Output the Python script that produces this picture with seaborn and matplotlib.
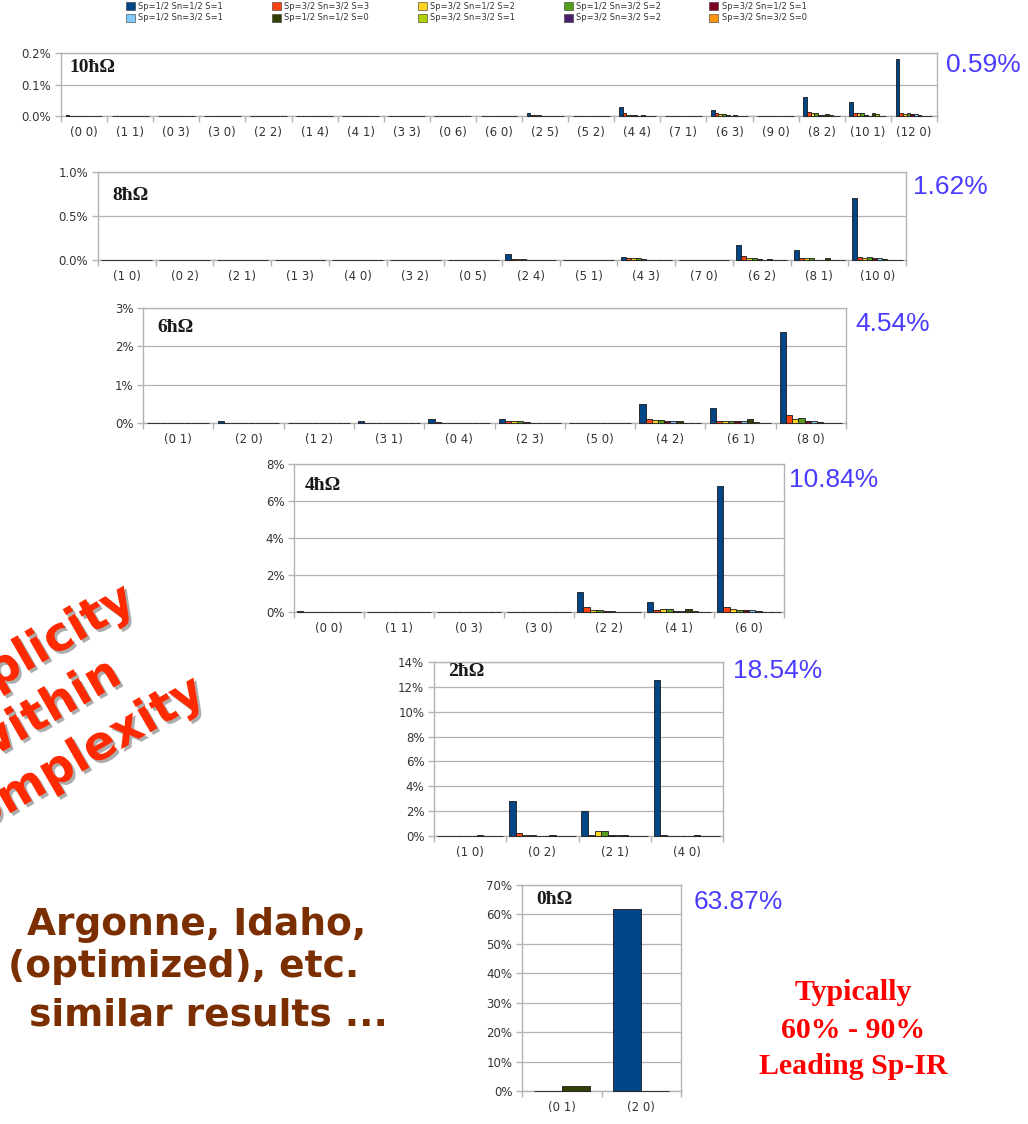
import numpy as np
import pandas as pd
import matplotlib
matplotlib.use("Agg")
import matplotlib.pyplot as plt
import matplotlib.patheffects as pe
from matplotlib.patches import Patch
from matplotlib.ticker import PercentFormatter, FixedLocator
import seaborn as sns

# ---- data (percent of the wave function) ----
series = ["Sp=1/2 Sn=1/2 S=1", "Sp=3/2 Sn=3/2 S=3", "Sp=3/2 Sn=1/2 S=2", "Sp=1/2 Sn=3/2 S=2",
          "Sp=3/2 Sn=1/2 S=1", "Sp=1/2 Sn=3/2 S=1", "Sp=1/2 Sn=1/2 S=0", "Sp=3/2 Sn=3/2 S=1",
          "Sp=3/2 Sn=3/2 S=2", "Sp=3/2 Sn=3/2 S=0"]
colors = ["#004586", "#ff420e", "#ffd320", "#579d1c", "#7e0021",
          "#83caff", "#314004", "#aecf00", "#4b1f6f", "#ff950e"]

cats_10 = ["(0 0)", "(1 1)", "(0 3)", "(3 0)", "(2 2)", "(1 4)", "(4 1)", "(3 3)", "(0 6)", "(6 0)",
           "(2 5)", "(5 2)", "(4 4)", "(7 1)", "(6 3)", "(9 0)", "(8 2)", "(10 1)", "(12 0)"]
vals_10 = [
    [0.002, 0, 0, 0, 0, 0, 0.001, 0, 0, 0],
    [0.001, 0, 0, 0, 0, 0, 0, 0, 0, 0],
    [0.001, 0, 0, 0, 0, 0, 0, 0, 0, 0],
    [0.001, 0, 0, 0, 0, 0, 0, 0, 0, 0],
    [0.001, 0, 0, 0, 0, 0, 0, 0, 0, 0],
    [0, 0, 0, 0, 0, 0, 0, 0, 0, 0],
    [0, 0, 0, 0, 0, 0, 0, 0, 0, 0],
    [0, 0, 0, 0, 0, 0, 0, 0, 0, 0],
    [0, 0, 0, 0, 0, 0, 0, 0, 0, 0],
    [0, 0, 0, 0, 0, 0, 0, 0, 0, 0],
    [0.008, 0.003, 0.002, 0.002, 0, 0, 0.001, 0, 0, 0],
    [0, 0, 0, 0, 0, 0, 0, 0, 0, 0],
    [0.028, 0.010, 0.004, 0.004, 0.002, 0, 0.003, 0, 0, 0],
    [0, 0, 0, 0, 0, 0, 0, 0, 0, 0],
    [0.018, 0.008, 0.006, 0.006, 0.003, 0, 0.004, 0, 0, 0],
    [0, 0, 0, 0, 0, 0, 0, 0, 0, 0],
    [0.060, 0.012, 0.010, 0.010, 0.004, 0.004, 0.006, 0.004, 0, 0],
    [0.045, 0.010, 0.008, 0.008, 0.004, 0, 0.008, 0.006, 0, 0],
    [0.182, 0.010, 0.006, 0.008, 0.006, 0.006, 0.004, 0, 0, 0],
]

cats_8 = ["(1 0)", "(0 2)", "(2 1)", "(1 3)", "(4 0)", "(3 2)", "(0 5)",
          "(2 4)", "(5 1)", "(4 3)", "(7 0)", "(6 2)", "(8 1)", "(10 0)"]
vals_8 = [
    [0.002, 0, 0, 0, 0, 0, 0, 0, 0, 0],
    [0.002, 0, 0, 0, 0, 0, 0, 0, 0, 0],
    [0.001, 0, 0, 0, 0, 0, 0, 0, 0, 0],
    [0.001, 0, 0, 0, 0, 0, 0, 0, 0, 0],
    [0.001, 0, 0, 0, 0, 0, 0, 0, 0, 0],
    [0.001, 0, 0, 0, 0, 0, 0, 0, 0, 0],
    [0, 0, 0, 0, 0, 0, 0, 0, 0, 0],
    [0.065, 0.012, 0.006, 0.006, 0, 0, 0.002, 0, 0, 0],
    [0.004, 0, 0, 0, 0, 0, 0, 0, 0, 0],
    [0.035, 0.020, 0.020, 0.020, 0.010, 0, 0.005, 0, 0, 0],
    [0.002, 0, 0, 0, 0, 0, 0, 0, 0, 0],
    [0.170, 0.050, 0.020, 0.020, 0.010, 0.005, 0.010, 0, 0, 0],
    [0.115, 0.020, 0.020, 0.020, 0.005, 0, 0.025, 0.005, 0, 0],
    [0.710, 0.030, 0.020, 0.030, 0.020, 0.020, 0.010, 0, 0, 0],
]

cats_6 = ["(0 1)", "(2 0)", "(1 2)", "(3 1)", "(0 4)", "(2 3)", "(5 0)", "(4 2)", "(6 1)", "(8 0)"]
vals_6 = [
    [0.01, 0, 0, 0, 0, 0, 0.01, 0, 0, 0],
    [0.06, 0.01, 0, 0, 0, 0, 0.01, 0, 0, 0],
    [0.01, 0, 0.01, 0, 0, 0, 0, 0, 0, 0],
    [0.05, 0.01, 0.01, 0.01, 0, 0, 0.01, 0, 0, 0],
    [0.10, 0.03, 0.01, 0.01, 0, 0, 0.01, 0, 0, 0],
    [0.10, 0.05, 0.05, 0.05, 0.02, 0, 0.01, 0, 0, 0],
    [0.01, 0.01, 0.01, 0.01, 0, 0, 0, 0, 0, 0],
    [0.50, 0.10, 0.08, 0.08, 0.06, 0.06, 0.04, 0, 0, 0],
    [0.40, 0.06, 0.06, 0.06, 0.04, 0.04, 0.10, 0.02, 0, 0],
    [2.38, 0.21, 0.10, 0.12, 0.06, 0.05, 0.03, 0.01, 0, 0],
]

cats_4 = ["(0 0)", "(1 1)", "(0 3)", "(3 0)", "(2 2)", "(4 1)", "(6 0)"]
vals_4 = [
    [0.04, 0, 0, 0, 0, 0, 0.01, 0, 0, 0],
    [0.02, 0.01, 0.01, 0.01, 0, 0, 0.01, 0, 0, 0],
    [0.01, 0.01, 0.01, 0.01, 0, 0, 0, 0, 0, 0],
    [0.01, 0.01, 0.01, 0.01, 0, 0, 0, 0, 0, 0],
    [1.10, 0.25, 0.12, 0.12, 0.05, 0.05, 0.02, 0, 0, 0],
    [0.54, 0.12, 0.15, 0.15, 0.06, 0.05, 0.17, 0.03, 0, 0],
    [6.80, 0.25, 0.15, 0.12, 0.10, 0.10, 0.03, 0.01, 0, 0],
]

cats_2 = ["(1 0)", "(0 2)", "(2 1)", "(4 0)"]
vals_2 = [
    [0.01, 0.01, 0.01, 0.01, 0, 0, 0.08, 0, 0, 0],
    [2.84, 0.22, 0.08, 0.08, 0.03, 0, 0.06, 0, 0, 0],
    [2.05, 0.05, 0.42, 0.42, 0.10, 0.10, 0.10, 0, 0, 0],
    [12.55, 0.05, 0.03, 0.03, 0, 0, 0.06, 0, 0, 0],
]

series_0 = ["Sp=1/2 Sn=1/2 S=1", "Sp=1/2 Sn=1/2 S=0"]
colors_0 = ["#004586", "#314004"]
cats_0 = ["(0 1)", "(2 0)"]
vals_0 = [
    [0.15, 1.7],
    [62.0, 0.0],
]

labels = ["10ħΩ", "8ħΩ", "6ħΩ", "4ħΩ", "2ħΩ", "0ħΩ"]
totals = ["0.59%", "1.62%", "4.54%", "10.84%", "18.54%", "63.87%"]
ymax = [0.2, 1.0, 3, 8, 14, 70]
ystep = [0.1, 0.5, 1, 2, 2, 10]
ydec = [1, 1, 0, 0, 0, 0]

# ---- layout (pixels of a 1028x1124 canvas) ----
W, H = 1028, 1124
boxes = [(61, 53, 937, 116), (98, 172, 906, 260), (143, 308, 846, 423),
         (294, 464, 784, 612), (434, 662, 723, 836), (522, 885, 681, 1091)]
title_off = [(8, 15), (14, 23), (14, 19), (11, 22), (14, 10), (14, 15)]
total_pos = [(946, 65), (913, 187), (855, 324), (789, 480), (733, 671), (694, 902)]
bar_width = [0.8, 0.88, 0.88, 0.92, 0.92, 0.7]

sns.set_style("white")
plt.rcParams["font.family"] = ["DejaVu Sans"]

fig = plt.figure(figsize=(W / 100, H / 100), dpi=100)

panel_data = [(cats_10, vals_10, series, colors), (cats_8, vals_8, series, colors),
              (cats_6, vals_6, series, colors), (cats_4, vals_4, series, colors),
              (cats_2, vals_2, series, colors), (cats_0, vals_0, series_0, colors_0)]

grey = "#b3b3b3"
for i, (cats, vals, hue_names, pal) in enumerate(panel_data):
    l, t, r, b = boxes[i]
    ax = fig.add_axes([l / W, 1 - b / H, (r - l) / W, (b - t) / H])
    df = pd.DataFrame(vals, index=cats, columns=hue_names)
    df = df.reset_index(names="config").melt(id_vars="config", var_name="series", value_name="pct")
    sns.barplot(data=df, x="config", y="pct", hue="series", order=cats, hue_order=hue_names,
                palette=pal, saturation=1, width=bar_width[i], edgecolor="#1a1a1a",
                linewidth=0.6, errorbar=None, legend=False, ax=ax, zorder=3)
    # flat (zero) bars show as short dark dashes on the baseline
    for p in ax.patches:
        p.set_clip_on(False)
    ax.set_xlim(-0.5, len(cats) - 0.5)
    ax.set_ylim(0, ymax[i])
    ax.set_yticks(np.arange(0, ymax[i] + ystep[i] / 2, ystep[i]))
    ax.yaxis.set_major_formatter(PercentFormatter(xmax=100, decimals=ydec[i]))
    ax.set_xlabel("")
    ax.set_ylabel("")
    ax.set_axisbelow(True)
    ax.grid(axis="y", color=grey, linewidth=0.9)
    for s in ax.spines.values():
        s.set_color(grey)
        s.set_linewidth(1.0)
    ax.xaxis.set_minor_locator(FixedLocator(np.arange(-0.5, len(cats), 1.0)))
    ax.tick_params(axis="x", which="major", length=0, pad=7, labelsize=8.5, labelcolor="#333333")
    ax.tick_params(axis="x", which="minor", length=4, color=grey, width=1, bottom=True)
    ax.tick_params(axis="y", length=4, color=grey, width=1, left=True, pad=3,
                   labelsize=8.5, labelcolor="#333333")
    dx, dy = title_off[i]
    fig.text((l + dx) / W, 1 - (t + dy) / H, labels[i], ha="left", va="center",
             fontsize=14, fontweight="bold", family=["Liberation Serif", "DejaVu Serif"],
             color="#1a1a1a")
    px, py = total_pos[i]
    fig.text(px / W, 1 - py / H, totals[i], ha="left", va="center", fontsize=19,
             family=["Liberation Sans", "DejaVu Sans"], color="#4a3cff")

# legend across the top, row 1 = first five series
order = [0, 5, 1, 6, 2, 7, 3, 8, 4, 9]
handles = [Patch(facecolor=colors[k], edgecolor="#333333", linewidth=0.4) for k in order]
fig.legend(handles, [series[k] for k in order], ncol=5, loc="upper left",
           bbox_to_anchor=(126 / W, 1 - 2 / H), frameon=False, fontsize=6,
           handlelength=1.1, handleheight=1.1, handletextpad=0.4,
           columnspacing=5.8, labelspacing=0.3, borderpad=0, borderaxespad=0,
           labelcolor="#333333")

# slide annotations (the rotated slogan runs off the left edge, as on the slide)
fig.text(46 / W, 1 - 712 / H, "Simplicity\nwithin\ncomplexity", rotation=30,
         rotation_mode="anchor", ha="center", va="center", multialignment="center",
         fontsize=34, fontweight="bold", color="#ff2a00", linespacing=1.35,
         path_effects=[pe.withSimplePatchShadow(offset=(2, -2), shadow_rgbFace="#777777", alpha=0.6)])

brown = "#7b2e00"
for txt, cx, cy in [("Argonne, Idaho,", 197, 925), ("(optimized), etc.", 184, 967),
                    ("similar results ...", 208, 1015)]:
    fig.text(cx / W, 1 - cy / H, txt, ha="center", va="center", fontsize=27,
             fontweight="bold", color=brown)

for txt, cy in [("Typically", 993), ("60% - 90%", 1031), ("Leading Sp-IR", 1067)]:
    fig.text(853 / W, 1 - cy / H, txt, ha="center", va="center", fontsize=21.5,
             fontweight="bold", family=["Liberation Serif", "DejaVu Serif"], color="#ff0000")

fig.savefig("out.png", dpi=100)
